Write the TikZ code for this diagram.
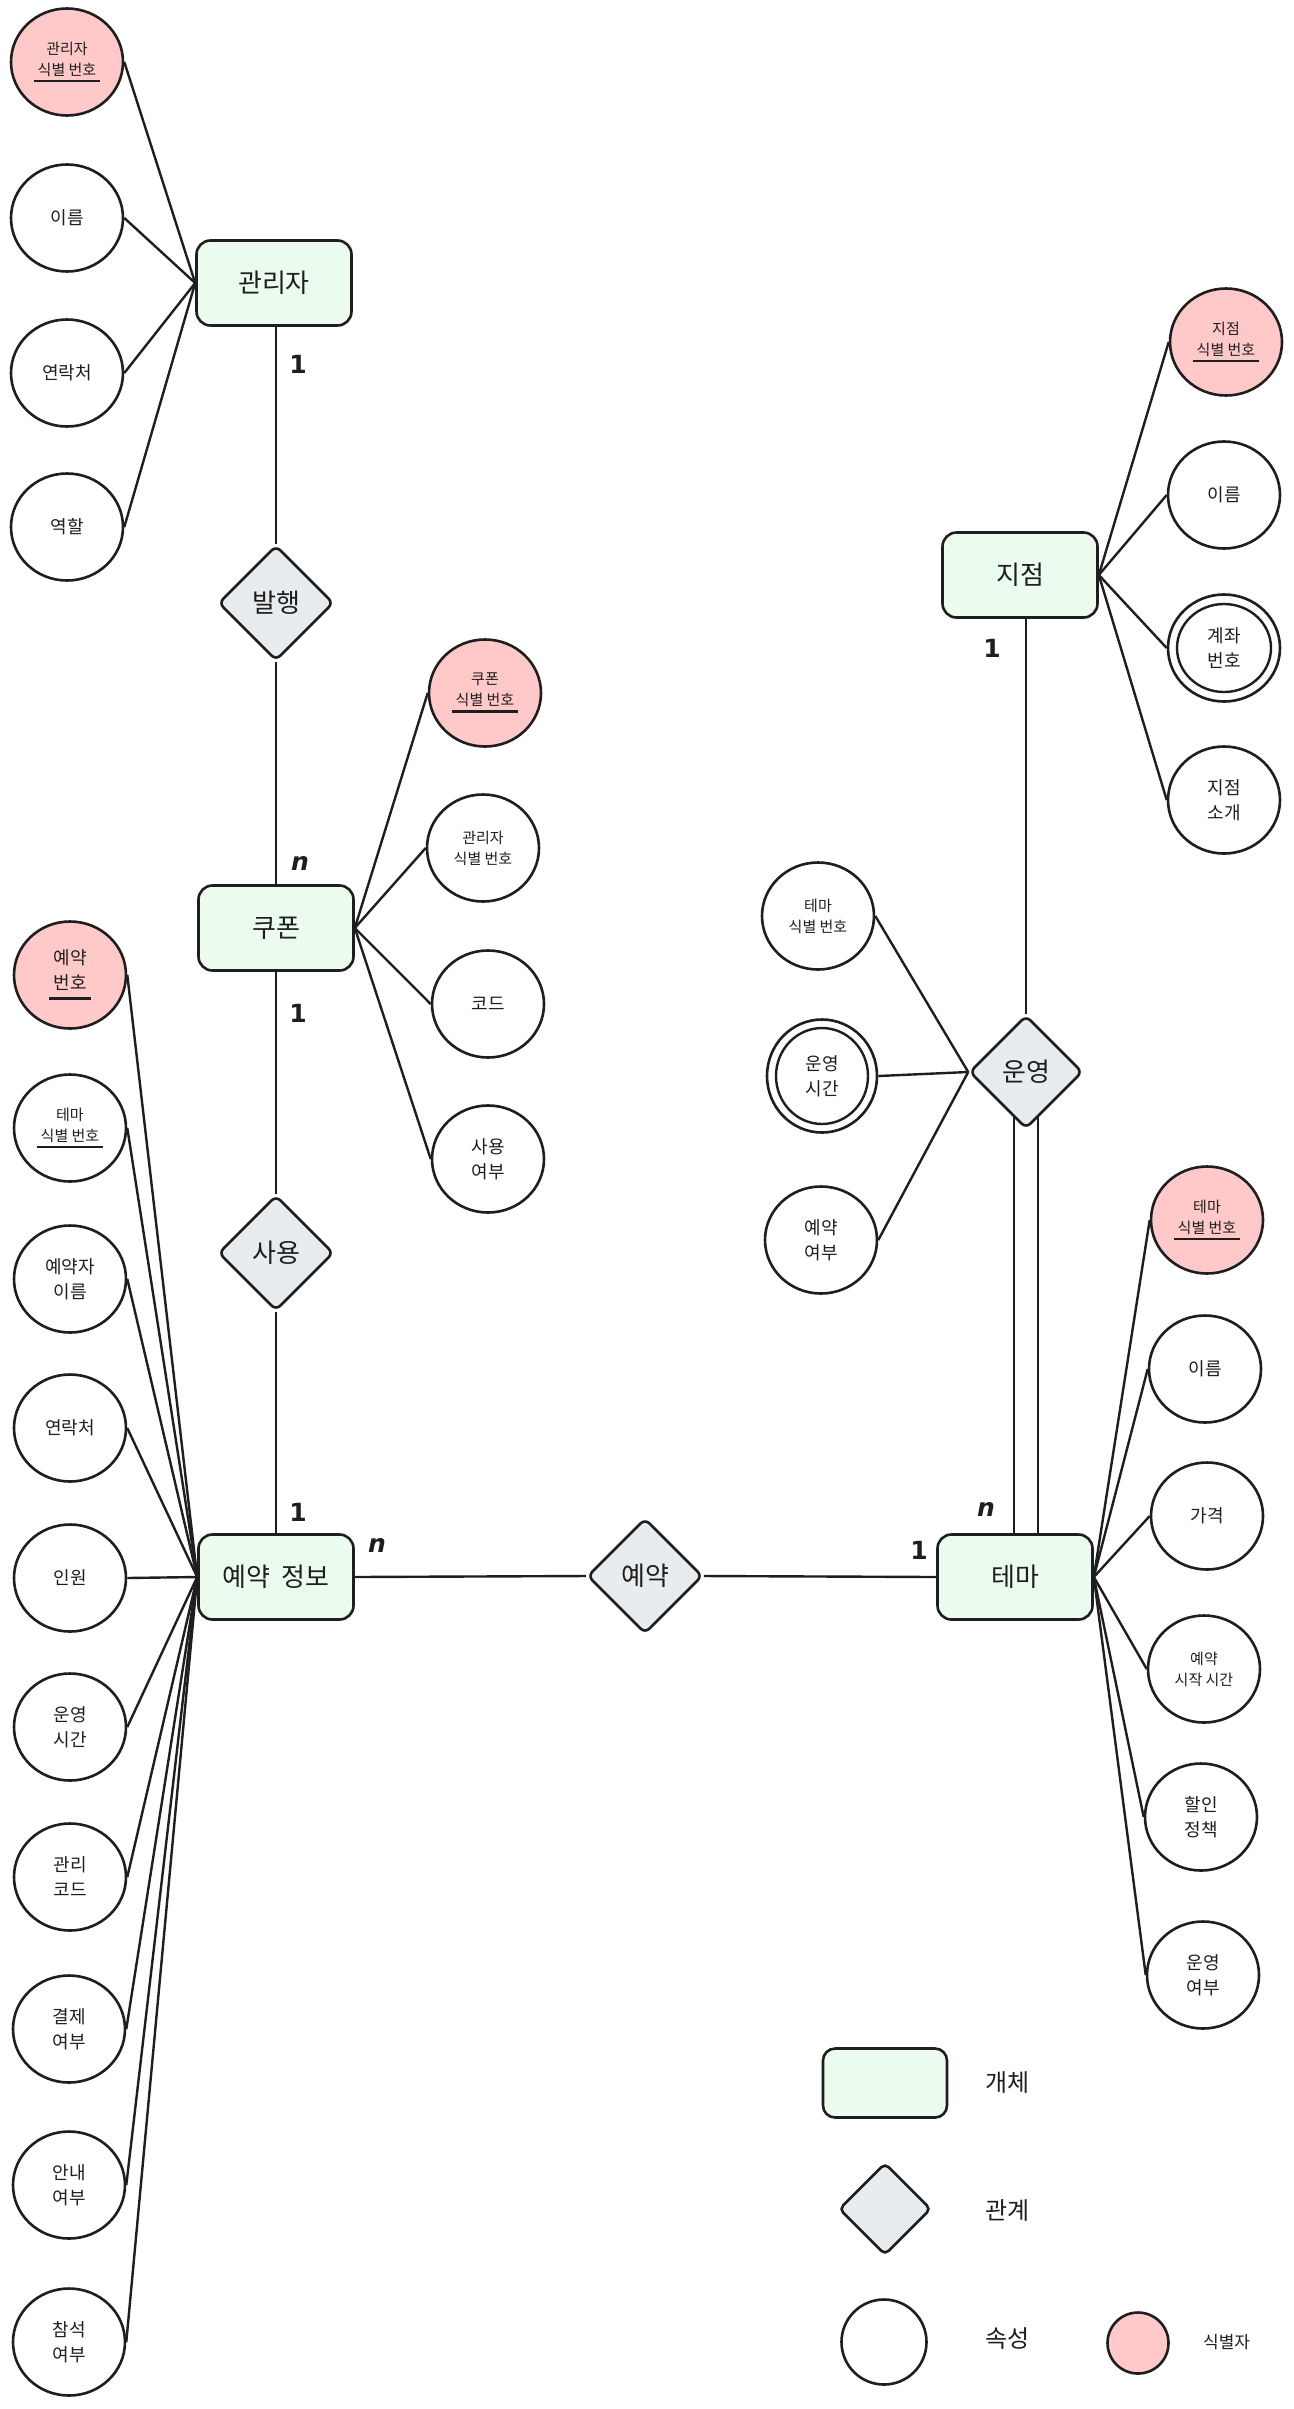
\documentclass[tikz,border=0pt]{standalone}
\usepackage{fontspec}
\setmainfont{Noto Sans CJK KR}
\newfontfamily\lblfont{DejaVu Sans}
\usetikzlibrary{shapes.geometric,calc}
\definecolor{ink}{HTML}{1E1E1E}
\definecolor{entfill}{HTML}{EBFBEE}
\definecolor{relfill}{HTML}{E9ECEF}
\definecolor{idfill}{HTML}{FFC9C9}
\newcommand{\myul}[2][7pt]{\leavevmode\setbox0=\hbox{#2}\rlap{\hspace*{-4pt}\rule[-#1]{\dimexpr\wd0+8pt\relax}{2.6pt}}\box0}
\begin{document}
\begin{tikzpicture}[x=1pt,y=-1pt,
  entity/.style={draw=ink, fill=entfill, line width=2.6pt, rounded corners=14pt, minimum width=155pt, minimum height=85pt, inner sep=0pt, text=ink, font=\fontsize{26}{30}\selectfont},
  rel/.style={diamond, aspect=1, draw=ink, fill=relfill, line width=2.6pt, rounded corners=6pt, minimum width=115pt, minimum height=115pt, inner sep=0pt, text=ink, font=\fontsize{26}{30}\selectfont},
  attr/.style={ellipse, draw=ink, fill=white, line width=2.6pt, minimum width=112pt, minimum height=107pt, inner sep=0pt, align=center, text=ink, font=\fontsize{18}{25}\selectfont},
  idattr/.style={attr, fill=idfill},
  small/.style={font=\fontsize{15}{21}\selectfont},
  conn/.style={draw=ink, line width=2.4pt},
  card/.style={text=ink, inner sep=0pt, font=\lblfont\bfseries\fontsize{25}{28}\selectfont},
  legtext/.style={text=ink, inner sep=0pt, anchor=west, font=\fontsize{24}{28}\selectfont}
]
\useasboundingbox (0,0) rectangle (1293,2409);
\fill[white] (0,0) rectangle (1293,2409);

% entities and relations
\node[entity] (mgr) at (274,283) {관리자};
\node[rel] (issue) at (276,603) {발행};
\node[entity] (coupon) at (276,928) {쿠폰};
\node[rel] (use) at (276,1253) {사용};
\node[entity] (resv) at (276,1577) {예약\hspace{0.45em}정보};
\node[rel] (book) at (645,1576) {예약};
\node[entity] (theme) at (1015,1577) {테마};
\node[rel, minimum width=113pt, minimum height=113pt] (oper) at (1026,1072) {운영};
\node[entity] (branch) at (1020,575) {지점};

% manager attributes
\node[idattr, small] (mid) at (67,62) {관리자\\\myul{식별 번호}};
\node[attr] (mname) at (67,218) {이름};
\node[attr] (mcontact) at (67,373) {연락처};
\node[attr] (mrole) at (67,527) {역할};

% coupon attributes
\node[idattr, small] (cid) at (485,693) {쿠폰\\\myul{식별 번호}};
\node[attr, small] (cmgr) at (483,848) {관리자\\식별 번호};
\node[attr] (ccode) at (488,1004) {코드};
\node[attr] (cused) at (488,1159) {사용\\여부};

% reservation attributes
\node[idattr] (rid) at (70,975) {예약\\\myul[10pt]{번호}};
\node[attr, small] (rtheme) at (70,1128) {테마\\\myul{식별 번호}};
\node[attr] (rname) at (70,1279) {예약자\\이름};
\node[attr] (rcontact) at (70,1428) {연락처};
\node[attr] (rcount) at (70,1578) {인원};
\node[attr] (rtime) at (70,1727) {운영\\시간};
\node[attr] (rcode) at (70,1877) {관리\\코드};
\node[attr] (rpay) at (69,2029) {결제\\여부};
\node[attr] (rguide) at (69,2185) {안내\\여부};
\node[attr] (rattend) at (69,2342) {참석\\여부};

% branch attributes
\node[idattr, small] (bid) at (1226,342) {지점\\\myul{식별 번호}};
\node[attr] (bname) at (1224,495) {이름};
\node[attr] (bacct) at (1224,648) {계좌\\번호};
\draw[ink, line width=2.4pt] (bacct.center) ellipse [x radius=47pt, y radius=44pt];
\node[attr] (bintro) at (1224,800) {지점\\소개};

% operation attributes
\node[attr, small] (otheme) at (818,916) {테마\\식별 번호};
\node[attr, minimum width=110pt, minimum height=113pt] (otime) at (822,1076) {운영\\시간};
\draw[ink, line width=2.4pt] (otime.center) ellipse [x radius=46pt, y radius=48pt];
\node[attr] (obook) at (821,1240) {예약\\여부};

% theme attributes
\node[idattr, small] (tid) at (1207,1220) {테마\\\myul{식별 번호}};
\node[attr] (tname) at (1205,1369) {이름};
\node[attr] (tprice) at (1207,1516) {가격};
\node[attr, small] (tstart) at (1204,1669) {예약\\시작 시간};
\node[attr] (tdisc) at (1201,1817) {할인\\정책};
\node[attr] (topen) at (1203,1975) {운영\\여부};

% relationship connectors
\draw[conn] (issue.north) -- (issue.north |- mgr.south);
\draw[conn] (issue.south) -- (coupon.north);
\draw[conn] (use.north) -- (coupon.south);
\draw[conn] (use.south) -- (resv.north);
\draw[conn] (resv.east) -- (book.west);
\draw[conn] (book.east) -- (theme.west);
\draw[conn] (oper.north) -- (oper.north |- branch.south);
\coordinate (dl) at ($(oper.center)+(-12,45)$);
\coordinate (dr) at ($(oper.center)+(12,45)$);
\draw[conn] (dl) -- (dl |- theme.north);
\draw[conn] (dr) -- (dr |- theme.north);

% attribute connectors
\foreach \a in {mid,mname,mcontact,mrole} \draw[conn] (\a.east) -- (mgr.west);
\foreach \a in {cid,cmgr,ccode,cused} \draw[conn] (\a.west) -- (coupon.east);
\foreach \a in {rid,rtheme,rname,rcontact,rcount,rtime,rcode,rpay,rguide,rattend} \draw[conn] (\a.east) -- (resv.west);
\foreach \a in {bid,bname,bacct,bintro} \draw[conn] (\a.west) -- (branch.east);
\foreach \a in {otheme,otime,obook} \draw[conn] (\a.east) -- (oper.west);
\foreach \a in {tid,tname,tprice,tstart,tdisc,topen} \draw[conn] (\a.west) -- (theme.east);

% cardinalities
\node[card] (c1) at (298,364) {1};
\node[card] (c2) at (300,863) {\itshape n};
\node[card] (c3) at (298,1013) {1};
\node[card] (c4) at (298,1512) {1};
\node[card] (c5) at (377,1545) {\itshape n};
\node[card] (c6) at (919,1550) {1};
\node[card] (c7) at (986,1509) {\itshape n};
\node[card] (c8) at (992,648) {1};

% legend
\node[entity, minimum width=124pt, minimum height=69pt, rounded corners=12pt] (legent) at (885,2083) {};
\node[legtext] (legentt) at (985,2082) {개체};
\node[rel, minimum width=92pt, minimum height=92pt, rounded corners=5pt] (legrel) at (885,2209) {};
\node[legtext] (legrelt) at (985,2210) {관계};
\node[attr, minimum width=85pt, minimum height=85pt] (legattr) at (884,2342) {};
\node[legtext] (legattrt) at (985,2338) {속성};
\node[idattr, minimum width=61pt, minimum height=61pt] (legid) at (1138,2343) {};
\node[legtext, font=\fontsize{17}{20}\selectfont] (legidt) at (1203,2342) {식별자};
\end{tikzpicture}
\end{document}
